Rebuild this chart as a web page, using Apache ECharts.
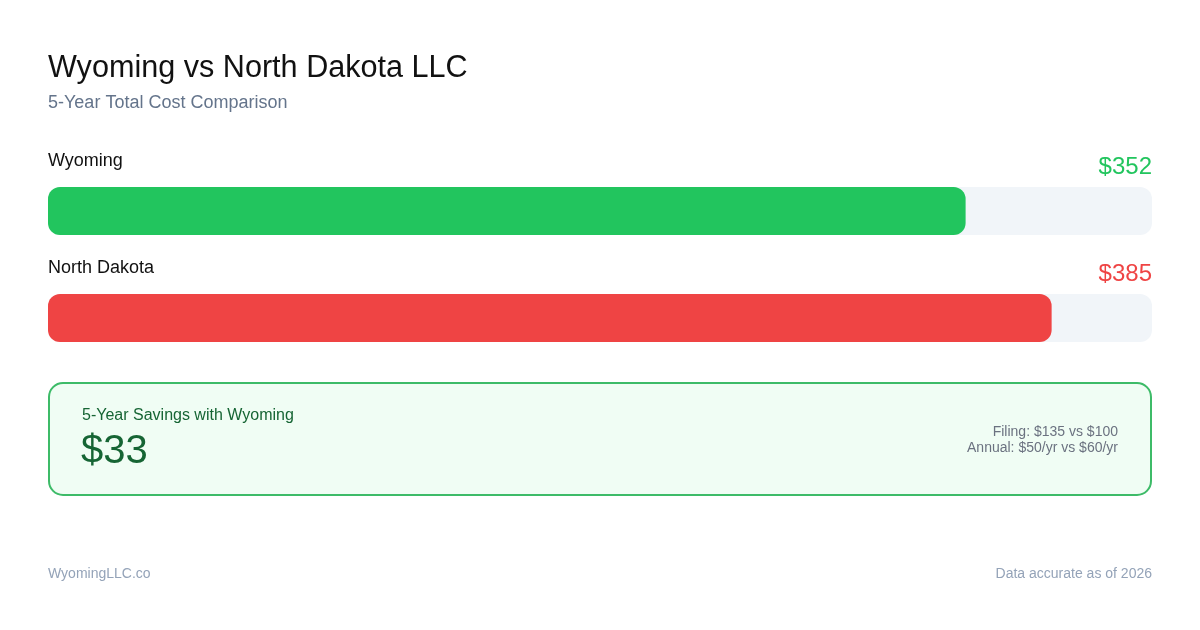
<!DOCTYPE html>
<html><head><meta charset="utf-8">
<script src="https://cdn.jsdelivr.net/npm/echarts@6/dist/echarts.min.js"></script>
<style>html,body{margin:0;padding:0;background:#fff}#c{width:1200px;height:630px}</style>
</head><body><div id="c"></div>
<script>
const states = ['Wyoming', 'North Dakota'];
const totals = [352, 385];
const barColors = ['#22c55e', '#ef4444'];
const savings = 33;
const filing = ['$135', '$100'];
const annual = ['$50/yr', '$60/yr'];
const scaleMax = 423.5;

const FONT = 'Liberation Sans';
const chart = echarts.init(document.getElementById('c'));
chart.setOption({
  backgroundColor: '#ffffff',
  animation: false,
  title: [
    { text: 'Wyoming vs North Dakota LLC', left: 48, top: 53, padding: 0,
      textStyle: { fontFamily: FONT, fontSize: 30.6, fontWeight: 'normal', color: '#111111' } },
    { text: '5-Year Total Cost Comparison', left: 48, top: 94, padding: 0,
      textStyle: { fontFamily: FONT, fontSize: 18, fontWeight: 'normal', color: '#64748b' } }
  ],
  grid: { left: 48, right: 48, top: 157.5, height: 214 },
  xAxis: { type: 'value', min: 0, max: scaleMax, show: false },
  yAxis: { type: 'category', data: states, inverse: true, show: false },
  series: [
    {
      type: 'bar', barWidth: 48, silent: true, z: 1,
      data: states.map((s, i) => ({ value: scaleMax, label: { color: barColors[i] } })),
      itemStyle: { color: '#f1f5f9', borderRadius: 12 },
      label: {
        show: true, position: 'insideTopRight', distance: 0, offset: [0, -32],
        fontFamily: FONT, fontSize: 24,
        formatter: p => '$' + totals[p.dataIndex]
      }
    },
    {
      type: 'bar', barWidth: 48, barGap: '-100%', z: 2,
      data: totals.map((v, i) => ({ value: v, itemStyle: { color: barColors[i] } })),
      itemStyle: { borderRadius: 12 },
      label: {
        show: true, position: 'insideTopLeft', distance: 0, offset: [0, -35],
        fontFamily: FONT, fontSize: 18, color: '#111111',
        formatter: p => states[p.dataIndex]
      }
    }
  ],
  graphic: [
    { type: 'rect', shape: { x: 49, y: 383, width: 1102, height: 112, r: 14 },
      style: { fill: '#f0fdf4', stroke: '#3dbb68', lineWidth: 2 } },
    { type: 'text', x: 82, y: 408, style: { text: '5-Year Savings with Wyoming',
      fontFamily: FONT, fontSize: 16, fill: '#166534' } },
    { type: 'text', x: 81, y: 432, style: { text: '$' + savings,
      fontFamily: FONT, fontSize: 40, fill: '#166534' } },
    { type: 'text', x: 1118, y: 425, style: { text: 'Filing: ' + filing[0] + ' vs ' + filing[1],
      fontFamily: FONT, fontSize: 14, fill: '#6b7280', align: 'right' } },
    { type: 'text', x: 1118, y: 441, style: { text: 'Annual: ' + annual[0] + ' vs ' + annual[1],
      fontFamily: FONT, fontSize: 14, fill: '#6b7280', align: 'right' } },
    { type: 'text', x: 48, y: 567, style: { text: 'WyomingLLC.co',
      fontFamily: FONT, fontSize: 14, fill: '#94a3b8' } },
    { type: 'text', x: 1152, y: 567, style: { text: 'Data accurate as of 2026',
      fontFamily: FONT, fontSize: 14, fill: '#94a3b8', align: 'right' } }
  ]
});
</script></body></html>
